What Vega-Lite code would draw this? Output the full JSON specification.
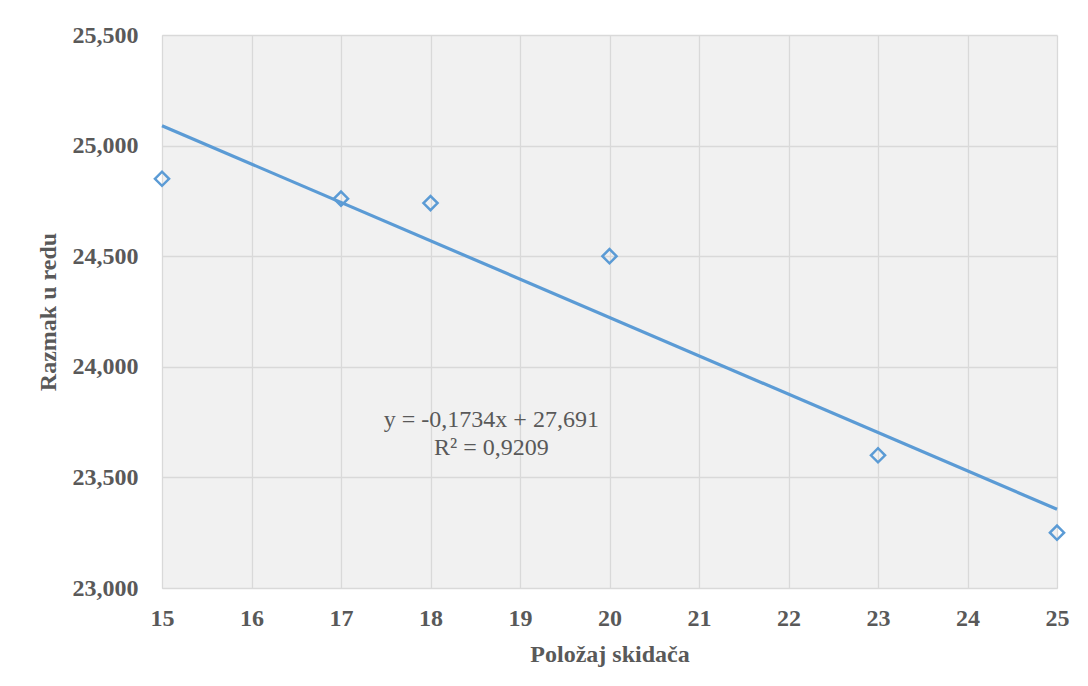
{
  "$schema": "https://vega.github.io/schema/vega-lite/v6.json",
  "width": 895,
  "height": 553,
  "autosize": {"type": "none"},
  "padding": {"left": 162, "top": 35, "right": 31, "bottom": 98},
  "background": "white",
  "config": {
    "view": {"fill": "#f1f1f1", "stroke": null},
    "font": "Liberation Serif"
  },
  "datasets": {
    "points": [
      {"pos": 15, "gap": 24.85},
      {"pos": 17, "gap": 24.76},
      {"pos": 18, "gap": 24.74},
      {"pos": 20, "gap": 24.5},
      {"pos": 23, "gap": 23.6},
      {"pos": 25, "gap": 23.25}
    ],
    "trend": [
      {"pos": 15, "gap": 25.090},
      {"pos": 25, "gap": 23.356}
    ],
    "label": [
      {"pos": 18.68, "gap": 23.76, "txt": "y = -0,1734x + 27,691\nR² = 0,9209"}
    ]
  },
  "encoding": {
    "x": {
      "field": "pos", "type": "quantitative",
      "scale": {"domain": [15, 25], "nice": false, "zero": false},
      "axis": {
        "title": "Položaj skidača",
        "values": [15, 16, 17, 18, 19, 20, 21, 22, 23, 24, 25],
        "ticks": false,
        "labelFlush": false,
        "labelOverlap": false,
        "domainColor": "#d9d9d9",
        "gridColor": "#d9d9d9",
        "gridWidth": 1.3,
        "labelFont": "Liberation Serif", "labelFontWeight": "bold", "labelFontSize": 24, "labelColor": "#595959",
        "labelBaseline": "alphabetic", "labelPadding": 37,
        "titleFont": "Liberation Serif", "titleFontWeight": "bold", "titleFontSize": 24, "titleColor": "#595959",
        "titleBaseline": "alphabetic", "titleY": 73
      }
    },
    "y": {
      "field": "gap", "type": "quantitative",
      "scale": {"domain": [23, 25.5], "nice": false, "zero": false},
      "axis": {
        "title": "Razmak u redu",
        "values": [23, 23.5, 24, 24.5, 25, 25.5],
        "labelExpr": "replace(format(datum.value, '.3f'), '.', ',')",
        "ticks": false,
        "labelFlush": false,
        "labelOverlap": false,
        "domainColor": "#d9d9d9",
        "gridColor": "#d9d9d9",
        "gridWidth": 1.3,
        "labelFont": "Liberation Serif", "labelFontWeight": "bold", "labelFontSize": 24, "labelColor": "#595959",
        "labelPadding": 24,
        "titleFont": "Liberation Serif", "titleFontWeight": "bold", "titleFontSize": 24, "titleColor": "#595959",
        "titlePadding": 12
      }
    }
  },
  "layer": [
    {
      "data": {"name": "trend"},
      "mark": {"type": "line", "color": "#5b9bd5", "strokeWidth": 3.2}
    },
    {
      "data": {"name": "points"},
      "mark": {"type": "point", "shape": "diamond", "filled": false, "color": "#5b9bd5", "strokeWidth": 2.5, "size": 200, "opacity": 1}
    },
    {
      "data": {"name": "label"},
      "mark": {"type": "text", "font": "Liberation Serif", "fontSize": 24, "color": "#595959", "lineBreak": "\n", "lineHeight": 28, "align": "center", "baseline": "middle"},
      "encoding": {"text": {"field": "txt"}}
    }
  ]
}
